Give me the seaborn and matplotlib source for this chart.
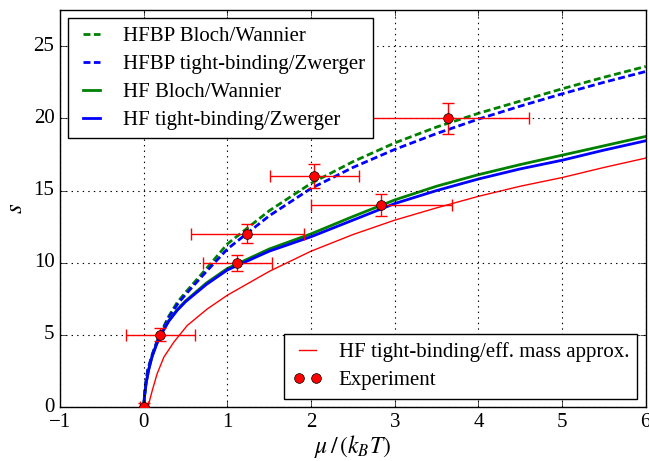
import numpy as np
import pandas as pd
import matplotlib
matplotlib.use("Agg")
import matplotlib.pyplot as plt
import seaborn as sns

# curves (mu/(k_B T) -> s)
mu_hf = [0, 0.01, 0.03, 0.06, 0.1, 0.15, 0.2, 0.3, 0.4, 0.5, 0.75, 1.0, 1.5, 2.0,
         2.5, 3.0, 3.5, 4.0, 4.5, 5.0, 5.5, 6.0]
s_hf_bloch = [0, 0.8, 1.7, 2.6, 3.5, 4.3, 5.0, 6.0, 6.75, 7.35, 8.6, 9.6, 10.95, 12.0,
              13.2, 14.35, 15.3, 16.1, 16.8, 17.45, 18.1, 18.75]
s_hf_tb = [0, 0.8, 1.7, 2.6, 3.5, 4.3, 4.95, 5.95, 6.7, 7.3, 8.5, 9.5, 10.8, 11.8,
           12.95, 14.1, 15.0, 15.8, 16.5, 17.1, 17.8, 18.45]

mu_bp = [0, 0.02, 0.05, 0.1, 0.15, 0.2, 0.3, 0.4, 0.5, 0.75, 1.0, 1.5, 2.0, 2.5,
         3.0, 3.5, 4.0, 4.5, 5.0, 5.5, 6.0]
s_hfbp_bloch = [0, 1.5, 2.6, 3.6, 4.4, 5.1, 6.3, 7.25, 7.95, 9.6, 11.3, 13.6, 15.5,
                17.0, 18.3, 19.4, 20.35, 21.2, 22.05, 22.85, 23.6]
s_hfbp_tb = [0, 1.5, 2.6, 3.6, 4.4, 5.05, 6.2, 7.1, 7.8, 9.4, 10.95, 13.25, 15.15,
             16.6, 17.85, 18.95, 19.95, 20.85, 21.7, 22.5, 23.25]

mu_eff = [0.05, 0.1, 0.16, 0.24, 0.36, 0.52, 0.76, 1.0, 1.5, 2.0, 2.5, 3.0, 3.5,
          4.0, 4.5, 5.0, 5.5, 6.0]
s_eff = [0, 1.1, 2.3, 3.45, 4.5, 5.65, 6.8, 7.75, 9.4, 10.8, 11.95, 12.95, 13.8,
         14.6, 15.3, 15.9, 16.6, 17.25]

# experiment
exp_mu = [0.0, 0.2, 1.12, 1.24, 2.04, 2.84, 3.64]
exp_s = [0.0, 5.0, 10.0, 12.0, 16.0, 14.0, 20.0]
exp_mu_err = [0.05, 0.41, 0.41, 0.67, 0.53, 0.84, 0.96]
exp_s_err = [0.3, 0.45, 0.55, 0.65, 0.85, 0.75, 1.05]

plt.style.use("classic")
plt.rcParams.update({
    "figure.facecolor": "white",
    "font.family": "Liberation Serif",
    "mathtext.fontset": "stix",
    "font.size": 15,
    "axes.grid": True,
    "grid.color": "black",
    "grid.linestyle": ":",
    "grid.linewidth": 0.8,
})

fig, ax = plt.subplots(figsize=(6.49, 4.61), dpi=100)
fig.subplots_adjust(left=0.0925, right=0.995, top=0.978, bottom=0.117)

df_bp = pd.DataFrame({"mu": mu_bp, "bloch": s_hfbp_bloch, "tb": s_hfbp_tb})
df_hf = pd.DataFrame({"mu": mu_hf, "bloch": s_hf_bloch, "tb": s_hf_tb})
df_eff = pd.DataFrame({"mu": mu_eff, "s": s_eff})

l1 = sns.lineplot(data=df_bp, x="mu", y="bloch", ax=ax, color="green", lw=2,
                  label="HFBP Bloch/Wannier").lines[-1]
l1.set_dashes((5, 2.5))
l2 = sns.lineplot(data=df_bp, x="mu", y="tb", ax=ax, color="blue", lw=2,
                  label="HFBP tight-binding/Zwerger").lines[-1]
l2.set_dashes((5, 2.5))
sns.lineplot(data=df_hf, x="mu", y="bloch", ax=ax, color="green", lw=2,
             label="HF Bloch/Wannier")
sns.lineplot(data=df_hf, x="mu", y="tb", ax=ax, color="blue", lw=2,
             label="HF tight-binding/Zwerger")
sns.lineplot(data=df_eff, x="mu", y="s", ax=ax, color="red", lw=1,
             label="HF tight-binding/eff. mass approx.")

ax.errorbar(exp_mu, exp_s, xerr=exp_mu_err, yerr=exp_s_err, fmt="none",
            ecolor="red", elinewidth=1, capsize=4, capthick=1, zorder=4)
ax.plot(exp_mu, exp_s, "o", color="red", mec="black", ms=7, zorder=5,
        label="Experiment")

handles, labels = ax.get_legend_handles_labels()
leg1 = ax.legend(handles[:4], labels[:4], loc="upper left", numpoints=2,
                 handlelength=1.4, labelspacing=0.4, fontsize=15,
                 borderaxespad=0.4)
ax.add_artist(leg1)
ax.legend(handles[4:], labels[4:], loc="lower right", numpoints=2,
          handlelength=1.4, labelspacing=0.4, fontsize=15, borderaxespad=0.4)

ax.set_xlim(-1, 6)
ax.set_ylim(0, 27.5)
ax.set_xticks([-1, 0, 1, 2, 3, 4, 5, 6])
ax.set_yticks([0, 5, 10, 15, 20, 25])
ax.set_xlabel(r"$\mu\,/\,(k_B T)$", fontsize=17, labelpad=1)
ax.set_ylabel(r"$s$", fontsize=18)

plt.savefig("out.png", dpi=100)
